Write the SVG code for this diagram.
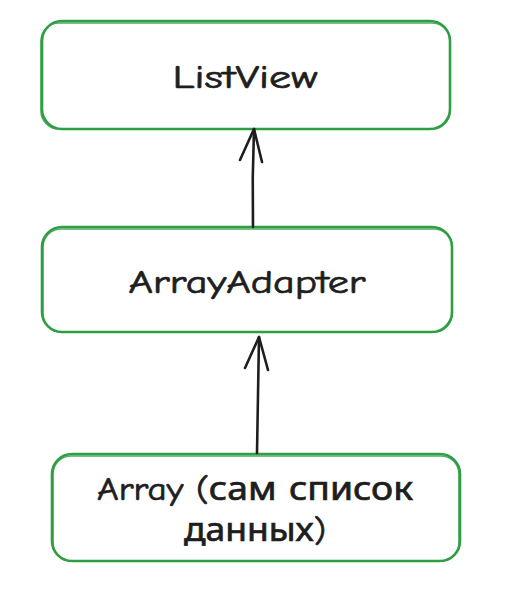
<svg xmlns="http://www.w3.org/2000/svg" width="512" height="598" viewBox="0 0 512 598">
<style>
.box{fill:#fff;stroke:#2f9e44;stroke-width:2.6;}
.box2{fill:none;stroke:#2f9e44;stroke-width:1.6;opacity:0.85;}
.lbl{font-family:"Comic Neue","Noto Sans","DejaVu Sans",sans-serif;font-size:32px;fill:#1e1e1e;stroke:#1e1e1e;stroke-width:0.7;text-anchor:middle;}
.conn{fill:none;stroke:#1e1e1e;stroke-width:2.6;stroke-linecap:round;stroke-linejoin:round;}
</style>
<rect width="512" height="598" fill="#fff"/>
<g id="listview">
<rect class="box" x="42" y="21" width="408" height="108" rx="20"/>
<rect class="box2" x="41" y="23" width="409" height="106" rx="18"/>
<text class="lbl" x="245" y="88" textLength="145" lengthAdjust="spacingAndGlyphs">ListView</text>
</g>
<g id="arrayadapter">
<rect class="box" x="42" y="227" width="410" height="105" rx="20"/>
<rect class="box2" x="43" y="229" width="409" height="103" rx="18"/>
<text class="lbl" x="247" y="293" textLength="237" lengthAdjust="spacingAndGlyphs">ArrayAdapter</text>
</g>
<g id="array">
<rect class="box" x="52" y="454" width="408" height="107" rx="20"/>
<rect class="box2" x="53" y="456" width="406" height="105" rx="18"/>
<text class="lbl" x="255" y="500" textLength="316" lengthAdjust="spacingAndGlyphs">Array (сам список</text>
<text class="lbl" x="255" y="541" textLength="142" lengthAdjust="spacingAndGlyphs">данных)</text>
</g>
<g id="connectors">
<path class="conn" d="M253 227 Q252 178 254 129"/>
<path class="conn" d="M254 129 L240 160 M254 129 L262 162"/>
<path class="conn" d="M257 453 Q258 395 259 337"/>
<path class="conn" d="M259 337 L245 368 M259 337 L268 370"/>
</g>
</svg>
